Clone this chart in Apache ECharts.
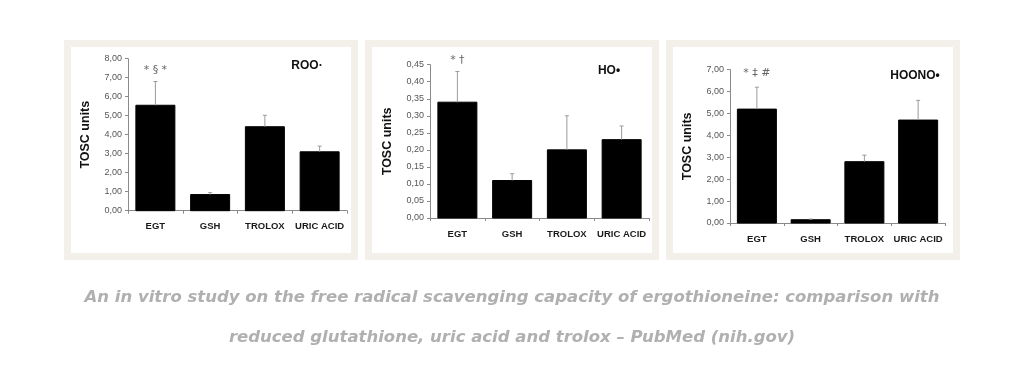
<!DOCTYPE html>
<html><head><meta charset="utf-8">
<script src="https://cdn.jsdelivr.net/npm/echarts@6/dist/echarts.min.js"></script>
<style>html,body{margin:0;padding:0;background:#fff}#c{width:1024px;height:385px}</style>
</head><body><div id="c"></div>
<script>
const categories = ['EGT', 'GSH', 'TROLOX', 'URIC ACID'];
const rooValues = [5.55, 0.85, 4.42, 3.10];
const rooErrTop = [6.80, 0.95, 5.02, 3.40];
const hoValues = [0.34, 0.11, 0.20, 0.23];
const hoErrTop = [0.43, 0.13, 0.30, 0.27];
const hoonoValues = [5.20, 0.15, 2.80, 4.70];
const hoonoErrTop = [6.20, 0.18, 3.10, 5.60];
const rooMarks = ['* § *', '', '', ''];
const hoMarks = ['* †', '', '', ''];
const hoonoMarks = ['* ‡ #', '', '', ''];
const panelTitles = ['ROO·', 'HO•', 'HOONO•'];
const captionLines = ['An in vitro study on the free radical scavenging capacity of ergothioneine: comparison with',
                      'reduced glutathione, uric acid and trolox – PubMed (nih.gov)'];

const grids = [
  {left: 128, width: 219, top: 58.7, height: 152},
  {left: 430, width: 219, top: 64.7, height: 153.3},
  {left: 730, width: 215, top: 69.7, height: 153.3}
];
const yMax = [8, 0.45, 7];
const yInt = [1, 0.05, 1];
const vals = [rooValues, hoValues, hoonoValues];
const errs = [rooErrTop, hoErrTop, hoonoErrTop];
const marks = [rooMarks, hoMarks, hoonoMarks];
const markOffset = [11, 11, 14];

const fmt = v => v.toFixed(2).replace('.', ',');

const option = {
  animation: false,
  backgroundColor: '#ffffff',
  grid: grids.map(g => Object.assign({containLabel: false}, g)),
  xAxis: grids.map((g, i) => ({
    type: 'category', gridIndex: i, data: categories,
    axisLine: {lineStyle: {color: '#8a8a8a', width: 1}},
    axisTick: {show: true, length: 3, lineStyle: {color: '#8a8a8a'}},
    axisLabel: {color: '#1a1a1a', fontSize: 9.5, fontWeight: 'bold', fontFamily: 'Liberation Sans', margin: 11, interval: 0}
  })),
  yAxis: grids.map((g, i) => ({
    type: 'value', gridIndex: i, min: 0, max: yMax[i], interval: yInt[i],
    name: 'TOSC units', nameLocation: 'middle', nameGap: 36,
    nameTextStyle: {color: '#111', fontSize: 12.5, fontWeight: 'bold', fontFamily: 'Liberation Sans'},
    axisLine: {show: true, lineStyle: {color: '#8a8a8a', width: 1}},
    axisTick: {show: true, length: 3, lineStyle: {color: '#8a8a8a'}},
    splitLine: {show: false},
    axisLabel: {color: '#555', fontSize: 9, fontFamily: 'Liberation Sans', margin: 6, formatter: fmt}
  })),
  series: [].concat(...grids.map((g, i) => [
    {
      type: 'bar', xAxisIndex: i, yAxisIndex: i, data: vals[i],
      barWidth: 39,
      itemStyle: {color: '#000', borderColor: '#000'}, z: 2
    },
    {
      type: 'custom', xAxisIndex: i, yAxisIndex: i, z: 3,
      data: categories.map((c, k) => [k, vals[i][k], errs[i][k]]),
      renderItem: (params, api) => {
        const k = api.value(0);
        const pBase = api.coord([k, api.value(1)]);
        const pTop = api.coord([k, api.value(2)]);
        const children = [
          {type: 'line', shape: {x1: pBase[0], y1: pBase[1], x2: pTop[0], y2: pTop[1]},
           style: {stroke: '#9a9a9a', lineWidth: 1}},
          {type: 'line', shape: {x1: pTop[0] - 2, y1: pTop[1], x2: pTop[0] + 2, y2: pTop[1]},
           style: {stroke: '#9a9a9a', lineWidth: 1}}
        ];
        const m = marks[i][params.dataIndex];
        if (m) {
          children.push({type: 'text', x: pTop[0], y: pTop[1] - markOffset[i],
            style: {text: m, fill: '#666', fontSize: 11, fontFamily: 'DejaVu Sans', align: 'center', verticalAlign: 'middle'}});
        }
        return {type: 'group', children};
      }
    }
  ])),
  graphic: [
    {type: 'rect', z: -10, shape: {x: 67.5, y: 43.5, width: 287, height: 213}, style: {fill: '#fff', stroke: '#f3f0e9', lineWidth: 7}},
    {type: 'rect', z: -10, shape: {x: 368.5, y: 43.5, width: 287, height: 213}, style: {fill: '#fff', stroke: '#f3f0e9', lineWidth: 7}},
    {type: 'rect', z: -10, shape: {x: 669.5, y: 43.5, width: 287, height: 213}, style: {fill: '#fff', stroke: '#f3f0e9', lineWidth: 7}},
    {type: 'text', x: 307, y: 66, style: {text: panelTitles[0], fill: '#111', fontSize: 12, fontWeight: 'bold', fontFamily: 'Liberation Sans', align: 'center', verticalAlign: 'middle'}},
    {type: 'text', x: 609, y: 71, style: {text: panelTitles[1], fill: '#111', fontSize: 12, fontWeight: 'bold', fontFamily: 'Liberation Sans', align: 'center', verticalAlign: 'middle'}},
    {type: 'text', x: 915, y: 76, style: {text: panelTitles[2], fill: '#111', fontSize: 12, fontWeight: 'bold', fontFamily: 'Liberation Sans', align: 'center', verticalAlign: 'middle'}},
    {type: 'text', x: 512, y: 298, style: {text: captionLines[0], fill: '#b0b0b0', fontSize: 16.5, fontStyle: 'italic', fontWeight: 'bold', fontFamily: 'DejaVu Sans', align: 'center', verticalAlign: 'middle'}},
    {type: 'text', x: 512, y: 338, style: {text: captionLines[1], fill: '#b0b0b0', fontSize: 16.5, fontStyle: 'italic', fontWeight: 'bold', fontFamily: 'DejaVu Sans', align: 'center', verticalAlign: 'middle'}}
  ]
};
const chart = echarts.init(document.getElementById('c'), null, {renderer: 'canvas'});
chart.setOption(option);
</script></body></html>
